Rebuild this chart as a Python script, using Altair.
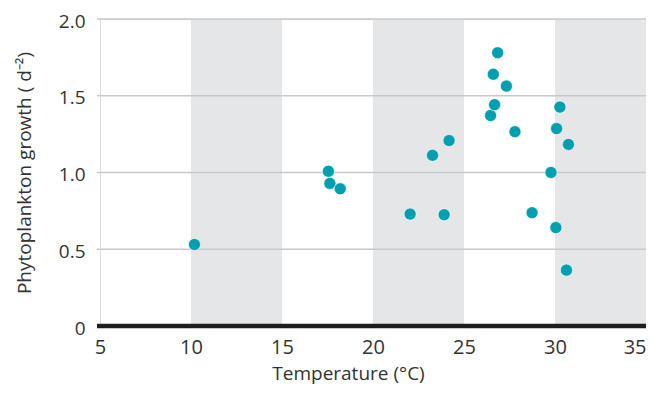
import altair as alt
import pandas as pd

temperature = [10.19, 17.55, 17.63, 18.2, 22.04, 23.27, 23.91, 24.18, 26.46, 26.68, 26.61,
               26.85, 27.33, 27.8, 30.27, 30.09, 30.74, 29.78, 28.74, 30.05, 30.63]
growth = [0.531, 1.008, 0.929, 0.894, 0.729, 1.112, 0.725, 1.208, 1.371, 1.442, 1.640,
          1.780, 1.563, 1.266, 1.426, 1.286, 1.183, 1.0, 0.738, 0.641, 0.364]

band_start = [10, 20, 30]
band_end = [15, 25, 35]

x_ticks = [5, 10, 15, 20, 25, 30, 35]
y_ticks = [0, 0.5, 1.0, 1.5, 2.0]

pts = pd.DataFrame({"t": temperature, "g": growth})
bands = pd.DataFrame({"s": band_start, "e": band_end})

FONT = "Open Sans"
W, H = 546, 307

xscale = alt.Scale(domain=[5, 35], nice=False, zero=False)
yscale = alt.Scale(domain=[0, 2], nice=False)

band_layer = alt.Chart(bands).mark_rect(color="#e5e6e8").encode(
    x=alt.X("s:Q", scale=xscale,
            axis=alt.Axis(values=x_ticks, title="Temperature (°C)", grid=False, domain=False,
                          ticks=False, labelPadding=11, labelFontSize=20, titleFontSize=19,
                          titlePadding=7, labelColor="#333", titleColor="#333",
                          labelFont=FONT, titleFont=FONT, titleFontWeight="normal",
                          labelFlush=False, titleX=248, titleAnchor="middle",
                          labelAlign={"condition": {"test": "datum.value == 35", "value": "right"},
                                      "value": "center"})),
    x2="e:Q",
    y=alt.value(0),
    y2=alt.value(H),
)

grid_layer = alt.Chart(pd.DataFrame({"v": y_ticks[1:]})).mark_rule(
    color="#c9c9c9", strokeWidth=1.5
).encode(
    y=alt.Y("v:Q", scale=yscale,
            axis=alt.Axis(values=y_ticks, title="Phytoplankton growth ( d⁻²)", grid=False,
                          domain=False, ticks=False, labelPadding=15, labelFontSize=19,
                          titleFontSize=19, titlePadding=24, labelColor="#333",
                          titleColor="#333", labelFont=FONT, titleFont=FONT,
                          titleFontWeight="normal", labelOffset=2,
                          labelExpr="datum.value == 0 ? '0' : format(datum.value, '.1f')")),
    x=alt.value(-3),
    x2=alt.value(W),
)

base_layer = alt.Chart(pd.DataFrame({"v": [0]})).mark_rule(
    color="#1e1e1e", strokeWidth=4.5
).encode(
    y=alt.Y("v:Q", scale=yscale),
    x=alt.value(-3),
    x2=alt.value(W),
)

point_layer = alt.Chart(pts).mark_circle(
    size=145, color="#00a0b0", opacity=1, stroke="white", strokeWidth=0.6
).encode(
    x=alt.X("t:Q", scale=xscale),
    y=alt.Y("g:Q", scale=yscale),
)

chart = alt.layer(band_layer, grid_layer, base_layer, point_layer).properties(
    width=W, height=H,
    autosize=alt.AutoSizeParams(type="none"),
    padding={"left": 92, "top": 11, "right": 0, "bottom": 70},
).configure_view(stroke=None).configure(background="white")

chart.save("out.html", embed_options={"renderer": "svg", "actions": False})
